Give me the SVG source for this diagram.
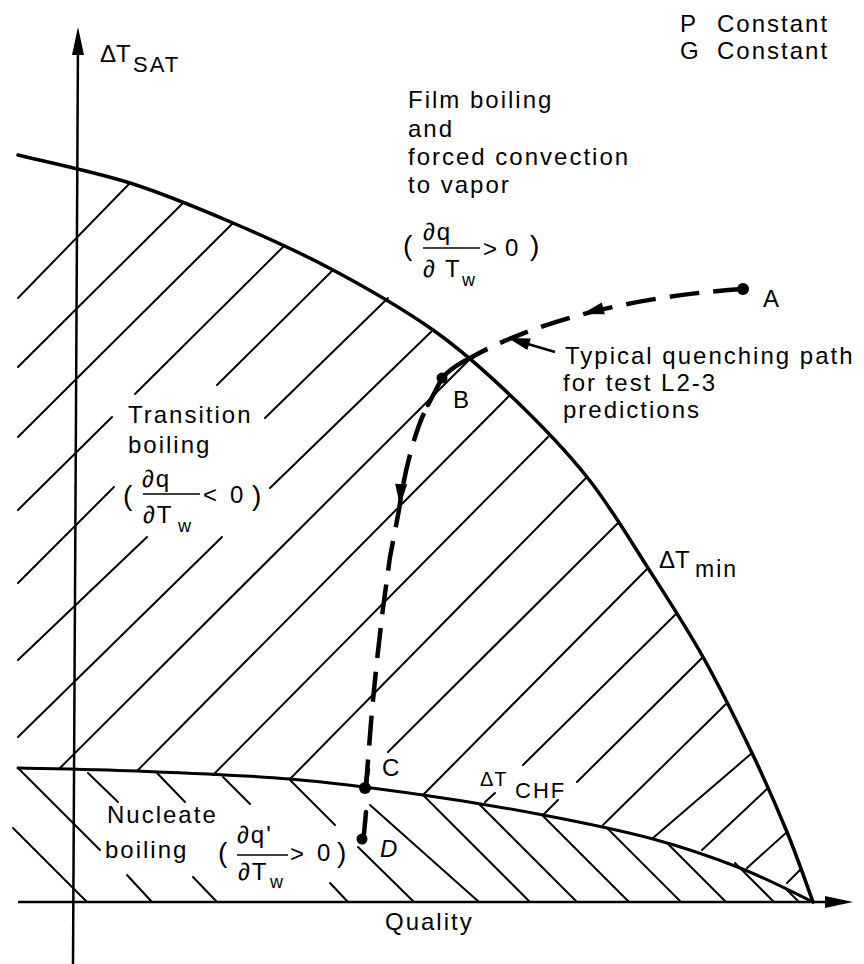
<svg xmlns="http://www.w3.org/2000/svg" width="864" height="964" viewBox="0 0 864 964">
<style>
.t{font-family:"Liberation Sans",Arial,sans-serif;font-size:24px;letter-spacing:2px;fill:#000}
.s{font-size:22px}
.sm{font-size:20px;letter-spacing:1px}
.sub{font-size:18px;letter-spacing:0}
.par{font-size:28px;letter-spacing:0}
.ax{stroke:#000;stroke-width:2.5;fill:none}
.cv{stroke:#000;stroke-width:3.5;fill:none;stroke-linejoin:round;stroke-linecap:round}
.h line{stroke:#000;stroke-width:2;stroke-linecap:round}
.dash{stroke:#000;stroke-width:4.5;fill:none;stroke-dasharray:30 14;stroke-linecap:butt}
.sol{stroke:#000;stroke-width:4.5;fill:none;stroke-linecap:round;stroke-linejoin:round}
.bar{stroke:#000;stroke-width:1.6}
</style>
<defs>
<path id="ah" d="M0,0 L-22,-6 L-22,6 Z" fill="#000"/>
<path id="axh" d="M0,0 L-28,-6 L-28,6 Z" fill="#000"/>
</defs>
<rect width="864" height="964" fill="#fff"/>

<g id="axes">
<line class="ax" x1="73" y1="964" x2="78" y2="40"/>
<use href="#axh" transform="translate(78,27) rotate(-90)"/>
<line class="ax" x1="18" y1="902" x2="835" y2="902"/>
<use href="#axh" transform="translate(853,902)"/>
<text class="t" x="100" y="62" style="letter-spacing:0">ΔT</text>
<text class="t s" x="133" y="72">SAT</text>
<text class="t" x="385" y="930">Quality</text>
</g>

<g id="hatch-transition" class="h">
<line x1="18" y1="298" x2="130" y2="183"/>
<line x1="18" y1="367" x2="183" y2="203"/>
<line x1="18" y1="437" x2="233" y2="223"/>
<line x1="18" y1="510" x2="112" y2="417"/><line x1="135" y1="394" x2="283" y2="247"/>
<line x1="18" y1="583" x2="114" y2="487"/><line x1="217" y1="385" x2="333" y2="270"/>
<line x1="18" y1="660" x2="147" y2="537"/><line x1="265" y1="418" x2="388" y2="298"/>
<line x1="18" y1="737" x2="222" y2="537"/><line x1="270" y1="488" x2="433" y2="330"/>
<line x1="60" y1="768" x2="472" y2="357"/>
<line x1="137" y1="771" x2="510" y2="395"/>
<line x1="213" y1="775" x2="548" y2="437"/>
<line x1="290" y1="779" x2="587" y2="477"/>
<line x1="388" y1="752" x2="618" y2="523"/>
<line x1="423" y1="795" x2="648" y2="568"/>
<line x1="485" y1="802" x2="495" y2="793"/><line x1="523" y1="765" x2="677" y2="613"/>
<line x1="543" y1="815" x2="558" y2="800"/><line x1="577" y1="782" x2="703" y2="657"/>
<line x1="603" y1="825" x2="727" y2="703"/>
<line x1="653" y1="838" x2="752" y2="753"/>
<line x1="702" y1="850" x2="768" y2="788"/>
<line x1="747" y1="868" x2="787" y2="832"/>
<line x1="787" y1="883" x2="800" y2="870"/>
</g>

<g id="hatch-nucleate" class="h">
<line x1="13" y1="828" x2="87" y2="902"/>
<line x1="18" y1="768" x2="100" y2="850"/><line x1="127" y1="875" x2="152" y2="902"/>
<line x1="88" y1="773" x2="118" y2="802"/><line x1="193" y1="877" x2="217" y2="902"/>
<line x1="157" y1="773" x2="185" y2="802"/>
<line x1="223" y1="777" x2="250" y2="804"/><line x1="330" y1="883" x2="348" y2="902"/>
<line x1="290" y1="780" x2="335" y2="825"/><line x1="358" y1="847" x2="414" y2="902"/>
<line x1="370" y1="805" x2="479" y2="902"/>
<line x1="423" y1="795" x2="530" y2="902"/>
<line x1="480" y1="805" x2="577" y2="902"/>
<line x1="543" y1="816" x2="629" y2="902"/>
<line x1="608" y1="829" x2="681" y2="902"/>
<line x1="667" y1="843" x2="726" y2="902"/>
<line x1="735" y1="863" x2="774" y2="902"/>
<line x1="785" y1="888" x2="799" y2="902"/>
</g>

<g id="curve-tmin">
<path class="cv" d="M18,155 C36.7,159.7 94.2,171.7 130,183 C165.8,194.3 199.2,208.5 233,223 C266.8,237.5 299.7,252.2 333,270 C366.3,287.8 403.5,309.2 433,330 C462.5,350.8 484.3,370.5 510,395 C535.7,419.5 564,448.2 587,477 C610,505.8 628.7,538 648,568 C667.3,598 685.7,626.2 703,657 C720.3,687.8 738,723.8 752,753 C766,782.2 776.8,807.2 787,832 C797.2,856.8 808.7,890.3 813,902"/>
<text class="t" x="659" y="568" style="letter-spacing:0">ΔT</text>
<text class="t" x="695" y="577" style="font-size:23px">min</text>
</g>

<g id="curve-tchf">
<path class="cv" style="stroke-width:3" d="M18,768 C37.8,768.5 91.7,769.2 137,771 C182.3,772.8 242.3,775 290,779 C337.7,783 380.8,789 423,795 C465.2,801 504.7,807.7 543,815 C581.3,822.3 620.2,830.2 653,839 C685.8,847.8 713.3,857.5 740,868 C766.7,878.5 800.8,896.3 813,902"/>
<text class="t sm" x="480" y="786">ΔT</text>
<text class="t s" x="515" y="798">CHF</text>
</g>

<g id="legend">
<text class="t" x="680" y="32">P</text><text class="t" x="717" y="32">Constant</text>
<text class="t" x="680" y="59">G</text><text class="t" x="717" y="59">Constant</text>
</g>

<g id="region-film">
<text class="t" x="408" y="108">Film boiling</text>
<text class="t" x="408" y="137">and</text>
<text class="t" x="408" y="165">forced convection</text>
<text class="t" x="408" y="193">to vapor</text>
<text class="t par" x="403" y="255">(</text>
<text class="t" x="423" y="240">∂q</text>
<line class="bar" x1="423" y1="248" x2="480" y2="248"/>
<text class="t" x="423" y="277">∂ T</text>
<text class="t sub" x="462" y="286">w</text>
<text class="t" x="483" y="257">&gt;</text>
<text class="t" x="505" y="256">0</text>
<text class="t par" x="530" y="255">)</text>
</g>

<g id="region-transition">
<text class="t" x="128" y="423">Transition</text>
<text class="t" x="128" y="453">boiling</text>
<text class="t par" x="123" y="505">(</text>
<text class="t" x="142" y="487">∂q</text>
<line class="bar" x1="143" y1="494" x2="200" y2="494"/>
<text class="t" x="143" y="523">∂T</text>
<text class="t sub" x="178" y="532">w</text>
<text class="t" x="203" y="503">&lt;</text>
<text class="t" x="230" y="503">0</text>
<text class="t par" x="252" y="505">)</text>
</g>

<g id="region-nucleate">
<text class="t" x="107" y="823">Nucleate</text>
<text class="t" x="105" y="858">boiling</text>
<text class="t par" x="218" y="862">(</text>
<text class="t" x="237" y="843">∂q'</text>
<line class="bar" x1="237" y1="855" x2="288" y2="855"/>
<text class="t" x="238" y="880">∂T</text>
<text class="t sub" x="270" y="888">w</text>
<text class="t" x="290" y="862">&gt;</text>
<text class="t" x="317" y="861">0</text>
<text class="t par" x="337" y="862">)</text>
</g>

<g id="connectors">
<path class="dash" d="M743,289 C680,293 560,308 472,357"/>
<path class="sol" d="M472,357 C456,365 446,372 441,380 L428,405"/>
<path class="dash" d="M424,413 C412,440 403,480 399,510 L390,557 L383,608 L377,660 L372,710 L366,786"/>
<path class="sol" d="M368,770 L365,790"/>
<path class="sol" d="M366,812 L364,834"/>
<use href="#ah" transform="translate(582,314) rotate(165.3)"/>
<use href="#ah" transform="translate(400,506) rotate(93)"/>
<line x1="555" y1="352" x2="528" y2="344" stroke="#000" stroke-width="2.5"/>
<use href="#ah" transform="translate(508,338) rotate(196.6)"/>
</g>

<g id="point-A"><circle cx="743" cy="289" r="6"/><text class="t" x="763" y="307">A</text></g>
<g id="point-B"><circle cx="442" cy="378" r="5.5"/><text class="t" x="453" y="408">B</text></g>
<g id="point-C"><circle cx="365" cy="788" r="6"/><text class="t" x="382" y="776">C</text></g>
<g id="point-D"><circle cx="362" cy="839" r="5.5"/><text class="t" x="380" y="857" font-style="italic">D</text></g>

<g id="label-path">
<text class="t" x="565" y="364">Typical quenching path</text>
<text class="t" x="563" y="391">for test L2-3</text>
<text class="t" x="563" y="418">predictions</text>
</g>
</svg>
